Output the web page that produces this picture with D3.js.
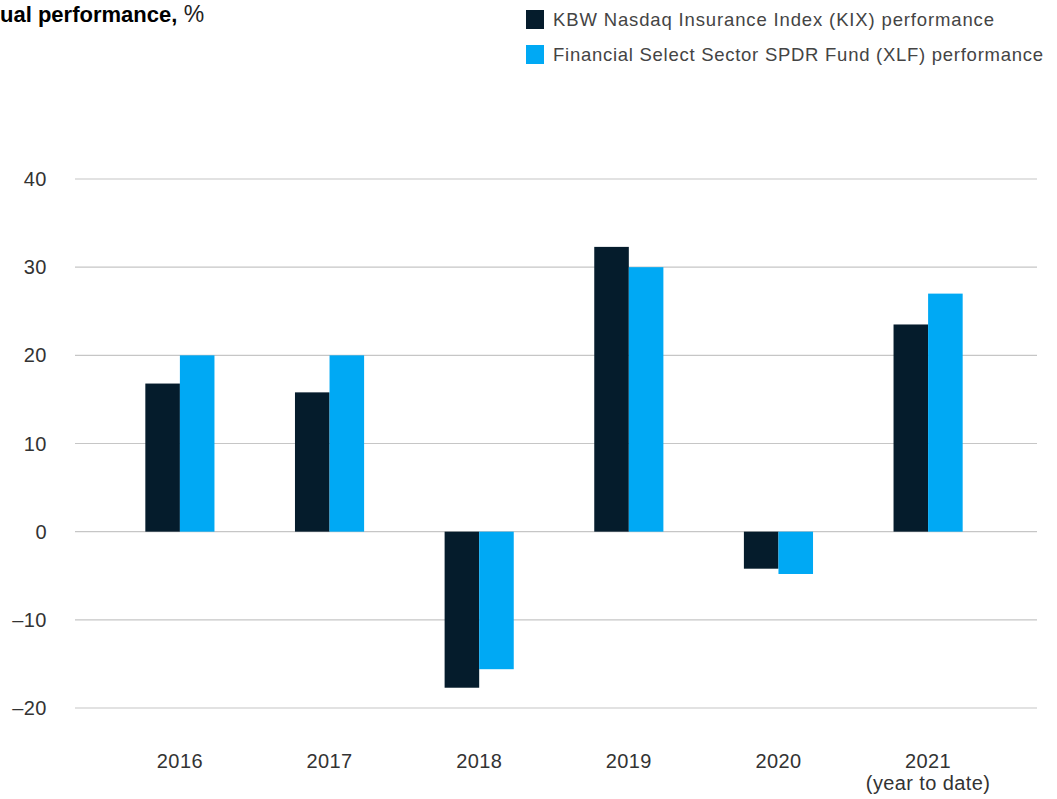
<!DOCTYPE html>
<html>
<head>
<meta charset="utf-8">
<script src="https://cdn.jsdelivr.net/npm/d3@7"></script>
<style>
  body { margin: 0; background: #fff; }
  text { font-family: "Liberation Sans", Arial, sans-serif; }
</style>
</head>
<body>
<div id="chart"></div>
<script>
const years = ["2016", "2017", "2018", "2019", "2020", "2021"];
const yearNotes = ["", "", "", "", "", "(year to date)"];
const kixValues = [16.8, 15.8, -17.7, 32.3, -4.2, 23.5];
const xlfValues = [20.0, 20.0, -15.6, 30.0, -4.8, 27.0];
const seriesNames = ["KBW Nasdaq Insurance Index (KIX) performance", "Financial Select Sector SPDR Fund (XLF) performance"];
const seriesKeys = ["kix", "xlf"];
const yTicks = [40, 30, 20, 10, 0, -10, -20];

const width = 1057, height = 799;
const colors = {kix: "#051c2c", xlf: "#00a9f4"};
const legendWidths = [441, 490];

const rows = years.map((y, i) => ({year: y, note: yearNotes[i], kix: kixValues[i], xlf: xlfValues[i]}));

const svg = d3.select("#chart")
    .append("svg")
    .attr("width", width)
    .attr("height", height);

const x = d3.scaleBand()
    .domain(years)
    .range([75, 1033])
    .paddingInner(0.538)
    .paddingOuter(0.47);

const xInner = d3.scaleBand()
    .domain(seriesKeys)
    .range([0, x.bandwidth()]);

const y = d3.scaleLinear()
    .domain([-20, 40])
    .range([708, 179]);

// grid lines
svg.append("g")
    .selectAll("line")
    .data(yTicks)
    .enter().append("line")
    .attr("x1", 75)
    .attr("x2", 1037)
    .attr("y1", d => y(d))
    .attr("y2", d => y(d))
    .style("stroke", "#c6c6c6")
    .style("stroke-width", 1.2);

// y labels
svg.append("g")
    .selectAll("text")
    .data(yTicks)
    .enter().append("text")
    .attr("x", 47)
    .attr("y", d => y(d))
    .attr("dy", "0.35em")
    .attr("text-anchor", "end")
    .style("font-size", "20px")
    .style("letter-spacing", "0.5px")
    .style("fill", "#333")
    .text(d => d < 0 ? "\u2013" + Math.abs(d) : d);

// bars
const groups = svg.append("g")
    .selectAll("g")
    .data(rows)
    .enter().append("g")
    .attr("transform", d => "translate(" + x(d.year) + ",0)");

groups.selectAll("rect")
    .data(d => seriesKeys.map(k => ({key: k, value: d[k]})))
    .enter().append("rect")
    .attr("x", d => xInner(d.key))
    .attr("width", xInner.bandwidth())
    .attr("y", d => y(Math.max(0, d.value)))
    .attr("height", d => Math.abs(y(d.value) - y(0)))
    .style("fill", d => colors[d.key]);

// x labels
const xl = svg.append("g")
    .selectAll("text")
    .data(rows)
    .enter().append("text")
    .attr("x", d => x(d.year) + x.bandwidth() / 2)
    .attr("y", 768)
    .attr("text-anchor", "middle")
    .style("font-size", "20px")
    .style("letter-spacing", "0.4px")
    .style("fill", "#333");
xl.append("tspan").text(d => d.year);
xl.append("tspan")
    .attr("x", d => x(d.year) + x.bandwidth() / 2)
    .attr("dy", 22)
    .text(d => d.note);

// title (cut off at the left edge, like the source image)
const title = svg.append("text")
    .attr("y", 22)
    .style("font-size", "22px")
    .style("fill", "#000");
title.append("tspan").style("font-weight", "bold").text("Annual performance,");
title.append("tspan").style("font-size", "23px").style("fill", "#222").text(" %");
const probe = svg.append("text").style("font-size", "22px").style("font-weight", "bold").text("Ann");
const cut = probe.node().getComputedTextLength();
probe.remove();
title.attr("x", -cut);

// legend
const legend = svg.append("g")
    .selectAll("g")
    .data(seriesKeys)
    .enter().append("g")
    .attr("transform", (d, i) => "translate(526," + (10 + i * 35) + ")");
legend.append("rect")
    .attr("width", 18)
    .attr("height", 19)
    .style("fill", d => colors[d]);
legend.append("text")
    .attr("x", 27)
    .attr("y", 16)
    .attr("textLength", (d, i) => legendWidths[i])
    .attr("lengthAdjust", "spacing")
    .style("font-size", "18.5px")
    .style("fill", "#444")
    .text((d, i) => seriesNames[i]);
</script>
</body>
</html>
